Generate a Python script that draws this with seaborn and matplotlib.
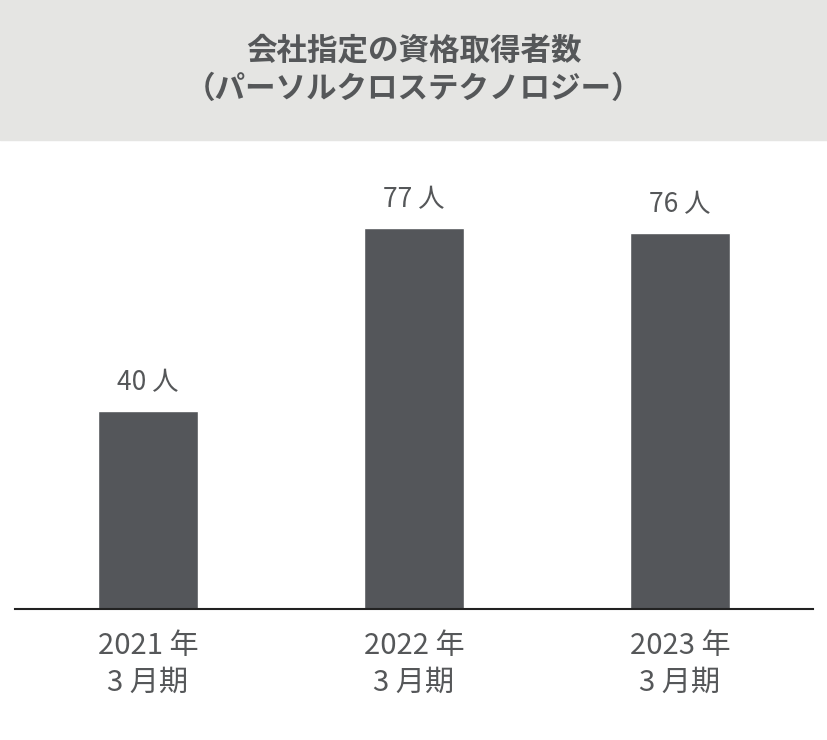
import matplotlib
matplotlib.use("Agg")
import matplotlib.pyplot as plt
import seaborn as sns
import pandas as pd
from matplotlib.patches import Rectangle

categories = ["2021年\n3月期", "2022年\n3月期", "2023年\n3月期"]
tick_labels = ["2021 年\n3 月期", "2022 年\n3 月期", "2023 年\n3 月期"]
values = [40, 77, 76]
value_labels = ["40 人", "77 人", "76 人"]
title = "会社指定の資格取得者数\n（パーソルクロステクノロジー）"

sns.set_style("white")
plt.rcParams['font.family'] = ['Noto Sans CJK JP', 'DejaVu Sans']

df = pd.DataFrame({"cat": categories, "val": values})

fig = plt.figure(figsize=(8.28, 7.4), dpi=100)
fig.patches.append(Rectangle((0, 1 - 140 / 740), 1, 140 / 740, transform=fig.transFigure,
                             color="#e5e5e3", zorder=0))
fig.text(0.5, 1 - 70 / 740, title, ha="center", va="center", fontsize=22,
         fontweight="bold", color="#555759", linespacing=1.25)

ax = fig.add_axes([15 / 828, 1 - 609 / 740, 798 / 828, 469 / 740])
sns.barplot(data=df, x="cat", y="val", color="#54565a", width=0.376, saturation=1, ax=ax)
ax.set_xlim(-0.5, 2.5)
ax.set_ylim(0, 94.7)
for i, (v, lab) in enumerate(zip(values, value_labels)):
    ax.text(i, v + 3, lab, ha="center", va="bottom", fontsize=19, color="#555759")
ax.set_xticks(range(3))
ax.set_xticklabels(tick_labels, fontsize=21, color="#555759", linespacing=1.3)
ax.tick_params(axis="x", length=0, pad=16)
ax.set_yticks([])
ax.set_xlabel("")
ax.set_ylabel("")
for s in ["top", "left", "right"]:
    ax.spines[s].set_visible(False)
ax.spines["bottom"].set_color("#222222")
ax.spines["bottom"].set_linewidth(1.5)
ax.patch.set_alpha(0)

fig.savefig("out.png", dpi=100)
